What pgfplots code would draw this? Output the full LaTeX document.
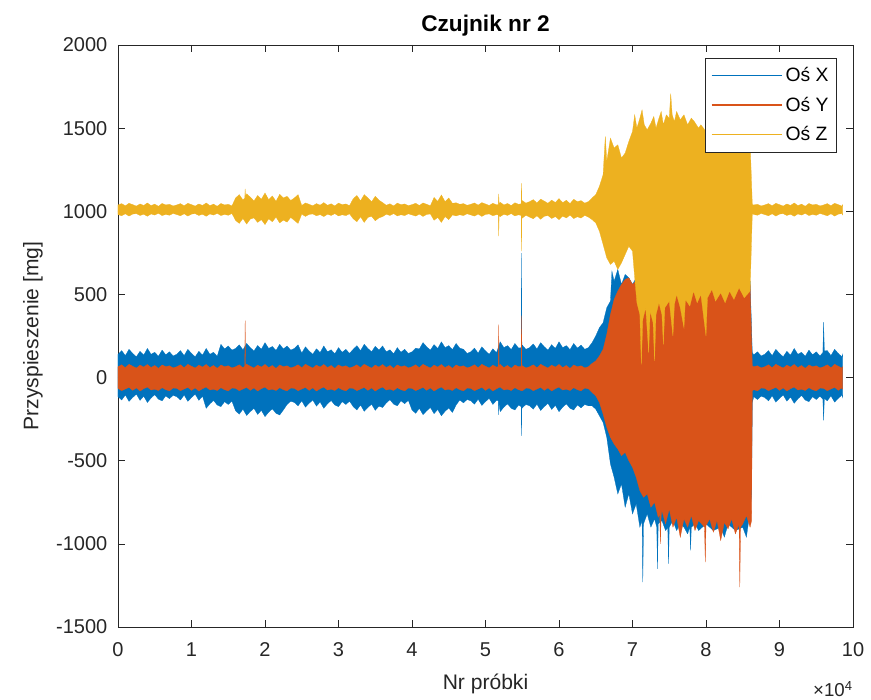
\documentclass[border=0pt]{standalone}
\usepackage{fontspec}
\setmainfont{Liberation Sans}
\usepackage{pgfplots}
\pgfplotsset{compat=1.18}
\usepgfplotslibrary{fillbetween}
\definecolor{mX}{RGB}{0,114,189}
\definecolor{mY}{RGB}{217,83,25}
\definecolor{mZ}{RGB}{237,177,32}
\definecolor{axgray}{RGB}{38,38,38}

\begin{document}
\begin{tikzpicture}
\begin{axis}[
    scale only axis,
    width=551.25pt, height=436.5pt,
    xmin=0, xmax=100000, ymin=-1500, ymax=2000,
    xtick={0,10000,...,100000},
    ytick={-1500,-1000,...,2000},
    scaled x ticks=base 10:-4,
    scaled y ticks=false,
    xtick scale label code/.code={},
    /pgf/number format/assume math mode=true,
    /pgf/number format/1000 sep={},
    tick align=inside,
    major tick length=5pt,
    axis line style={axgray},
    tick style={axgray, line width=0.5pt},
    ticklabel style={font=\fontsize{15}{17}\selectfont, text=axgray},
    xticklabel style={yshift=-8pt},
    yticklabel style={xshift=-4.5pt},
    title={Czujnik nr 2},
    title style={font=\fontsize{17}{19}\selectfont\bfseries, at={(0.5,1)}, anchor=base, yshift=4pt},
    xlabel={Nr próbki},
    xlabel style={font=\fontsize{15.8}{18}\selectfont, text=axgray, at={(0.5,0)}, anchor=base, yshift=-47.25pt},
    ylabel={Przyspieszenie [mg]},
    ylabel style={font=\fontsize{15.8}{18}\selectfont, text=axgray, at={(axis description cs:-0.1156,0.5)}, anchor=center},
    legend style={at={(0.978,0.978)}, anchor=north east, draw=axgray, fill=white,
        font=\fontsize{14.5}{16}\selectfont, cells={anchor=west}, row sep=6pt,
        inner xsep=4pt, inner ysep=5pt},
    legend image code/.code={\draw[#1] (0pt,0pt) -- (53pt,0pt);},
]
\addlegendimage{draw=mX, line width=1.1pt}
\addlegendentry{Oś X}
\addlegendimage{draw=mY, line width=1.1pt}
\addlegendentry{Oś Y}
\addlegendimage{draw=mZ, line width=1.1pt}
\addlegendentry{Oś Z}

% ---- Os X ----
\addplot[name path=xu, draw=none, forget plot] coordinates {
(0,140) (500,162) (1000,132) (1500,170) (2000,145) (2500,125) (3000,158) (3500,135)
(4000,175) (4500,140) (5000,152) (5500,128) (6000,165) (6500,137) (7000,155) (7500,130)
(8000,140) (8500,162) (9000,132) (9500,170) (10000,145) (10500,125) (11000,158) (11500,135)
(12000,175) (12500,140) (13000,152) (13500,128) (14000,200) (14500,172) (15000,190) (15500,165)
(16000,175) (16500,197) (17000,167) (17500,205) (18000,180) (18500,160) (19000,193) (19500,170)
(20000,210) (20500,175) (21000,187) (21500,163) (22000,200) (22500,172) (23000,190) (23500,165)
(24000,175) (24500,197) (25000,147) (25500,185) (26000,160) (26500,140) (27000,173) (27500,150)
(28000,190) (28500,155) (29000,167) (29500,143) (30000,180) (30500,152) (31000,170) (31500,145)
(32000,170) (32500,192) (33000,162) (33500,200) (34000,175) (34500,155) (35000,188) (35500,165)
(36000,190) (36500,155) (37000,167) (37500,143) (38000,180) (38500,152) (39000,170) (39500,145)
(40000,155) (40500,177) (41000,172) (41500,210) (42000,185) (42500,165) (43000,198) (43500,175)
(44000,215) (44500,180) (45000,192) (45500,168) (46000,205) (46500,177) (47000,170) (47500,145)
(48000,155) (48500,177) (49000,147) (49500,185) (50000,160) (50500,140) (51000,173) (51500,150)
(52000,215) (52500,180) (53000,192) (53500,168) (54000,205) (54500,177) (54850,180) (54900,748)
(54950,185) (55000,195) (55500,170) (56000,180) (56500,202) (57000,172) (57500,210) (58000,185)
(58500,165) (59000,198) (59500,175) (60000,215) (60500,180) (61000,192) (61500,168) (62000,205)
(62500,177) (63000,195) (63500,170) (64000,180) (64500,210) (65000,250) (65500,300) (66000,330)
(66500,420) (67000,460) (67200,640) (67500,580) (68000,650) (68500,560) (69000,620) (69500,600)
(70000,560) (70500,600) (71000,550) (72000,560) (73000,540) (74000,570) (75000,550) (76000,560)
(77000,540) (78000,560) (79000,550) (80000,560) (81000,540) (82000,560) (83000,550) (84000,570)
(85000,560) (86000,580) (86300,150) (86500,137) (87000,155) (87500,130) (88000,140) (88500,162)
(89000,132) (89500,170) (90000,145) (90500,125) (91000,158) (91500,135) (92000,175) (92500,140)
(93000,152) (93500,128) (94000,165) (94500,137) (95000,155) (95500,130) (95900,150) (96000,333)
(96100,160) (96500,162) (97000,132) (97500,170) (98000,145) (98500,125) (98600,140)
};
\addplot[name path=xl, draw=none, forget plot] coordinates {
(0,-115) (500,-135) (1000,-105) (1500,-143) (2000,-120) (2500,-100) (3000,-137) (3500,-112)
(4000,-150) (4500,-123) (5000,-103) (5500,-130) (6000,-140) (6500,-110) (7000,-127) (7500,-107)
(8000,-115) (8500,-135) (9000,-105) (9500,-143) (10000,-120) (10500,-100) (11000,-137) (11500,-112)
(12000,-185) (12500,-158) (13000,-138) (13500,-165) (14000,-175) (14500,-145) (15000,-162) (15500,-142)
(16000,-200) (16500,-220) (17000,-190) (17500,-228) (18000,-205) (18500,-185) (19000,-222) (19500,-197)
(20000,-235) (20500,-208) (21000,-188) (21500,-215) (22000,-225) (22500,-195) (23000,-162) (23500,-142)
(24000,-150) (24500,-170) (25000,-140) (25500,-178) (26000,-155) (26500,-135) (27000,-172) (27500,-147)
(28000,-185) (28500,-158) (29000,-138) (29500,-165) (30000,-175) (30500,-145) (31000,-162) (31500,-142)
(32000,-175) (32500,-195) (33000,-165) (33500,-203) (34000,-180) (34500,-160) (35000,-197) (35500,-172)
(36000,-180) (36500,-153) (37000,-133) (37500,-160) (38000,-170) (38500,-140) (39000,-157) (39500,-137)
(40000,-195) (40500,-215) (41000,-185) (41500,-223) (42000,-200) (42500,-180) (43000,-217) (43500,-192)
(44000,-230) (44500,-203) (45000,-183) (45500,-210) (46000,-165) (46500,-135) (47000,-152) (47500,-132)
(48000,-140) (48500,-160) (49000,-130) (49500,-168) (50000,-145) (50500,-125) (51000,-162) (51500,-137)
(51750,-140) (51800,-225) (51850,-145) (52000,-205) (52500,-178) (53000,-158) (53500,-185) (54000,-195)
(54500,-165) (54850,-175) (54900,-350) (54950,-180) (55000,-182) (55500,-162) (56000,-170) (56500,-190)
(57000,-160) (57500,-198) (58000,-175) (58500,-155) (59000,-192) (59500,-167) (60000,-205) (60500,-178)
(61000,-158) (61500,-185) (62000,-195) (62500,-165) (63000,-182) (63500,-162) (64000,-170) (64500,-170)
(65000,-190) (65500,-230) (66000,-270) (66500,-360) (67000,-520) (67500,-600) (68000,-700) (68500,-640)
(69000,-780) (69500,-700) (70000,-820) (70500,-760) (71000,-900) (71300,-860) (71400,-1230) (71500,-880)
(72000,-820) (72500,-900) (73000,-850) (73300,-900) (73400,-1150) (73500,-880) (74000,-860) (74500,-920)
(74800,-900) (74900,-1120) (75000,-900) (75500,-860) (76000,-920) (76500,-880) (77000,-900) (77500,-940)
(77800,-900) (77900,-1040) (78000,-900) (78500,-880) (79000,-920) (80000,-880) (81000,-920) (82000,-900)
(82500,-960) (83000,-880) (84000,-920) (85000,-900) (85500,-960) (86000,-800) (86200,-700) (86300,-150)
(86500,-115) (87000,-132) (87500,-112) (88000,-120) (88500,-140) (89000,-110) (89500,-148) (90000,-125)
(90500,-105) (91000,-142) (91500,-117) (92000,-155) (92500,-128) (93000,-108) (93500,-135) (94000,-145)
(94500,-115) (95000,-132) (95500,-112) (95900,-130) (96000,-257) (96100,-125) (96500,-140) (97000,-110)
(97500,-148) (98000,-125) (98500,-105) (98600,-120)
};
\addplot[fill=mX, draw=mX, line width=0.2pt, forget plot] fill between[of=xu and xl];

% ---- Os Y ----
\addplot[name path=yu, draw=none, forget plot] coordinates {
(0,65) (500,77) (1000,59) (1500,80) (2000,68) (2500,57) (3000,75) (3500,63)
(4000,79) (4500,60) (5000,73) (5500,55) (6000,76) (6500,65) (7000,71) (7500,58)
(8000,65) (8500,77) (9000,59) (9500,80) (10000,68) (10500,57) (11000,75) (11500,63)
(12000,79) (12500,60) (13000,73) (13500,55) (14000,76) (14500,65) (15000,71) (15500,58)
(16000,65) (16500,77) (17000,59) (17250,70) (17300,342) (17350,72) (17500,80) (18000,68)
(18500,57) (19000,75) (19500,63) (20000,79) (20500,60) (21000,73) (21500,55) (22000,76)
(22500,65) (23000,71) (23500,58) (24000,65) (24500,77) (25000,59) (25500,80) (26000,68)
(26500,57) (27000,75) (27500,63) (28000,79) (28500,60) (29000,73) (29500,55) (30000,76)
(30500,65) (31000,71) (31500,58) (32000,65) (32500,77) (33000,59) (33500,80) (34000,68)
(34500,57) (35000,75) (35500,63) (36000,79) (36500,60) (37000,73) (37500,55) (38000,76)
(38500,65) (39000,71) (39500,58) (40000,65) (40500,77) (41000,59) (41500,80) (42000,68)
(42500,57) (43000,75) (43500,63) (44000,79) (44500,60) (45000,73) (45500,55) (46000,76)
(46500,65) (47000,71) (47500,58) (48000,65) (48500,77) (49000,59) (49500,80) (50000,68)
(50500,57) (51000,75) (51500,63) (51750,66) (51800,318) (51850,70) (52000,79) (52500,60)
(53000,73) (53500,55) (54000,76) (54500,65) (54850,68) (54900,372) (54950,70) (55000,71)
(55500,58) (56000,65) (56500,77) (57000,59) (57500,80) (58000,68) (58500,57) (59000,75)
(59500,63) (60000,79) (60500,60) (61000,73) (61500,55) (62000,76) (62500,65) (63000,71)
(63500,58) (64000,65) (64500,85) (65000,100) (65500,130) (66000,170) (66500,260) (67000,380)
(67500,470) (68000,520) (68500,560) (69000,590) (69500,600) (70000,560) (70500,580) (71000,540)
(72000,560) (73000,520) (74000,560) (75000,530) (76000,570) (77000,520) (78000,560) (79000,540)
(80000,570) (81000,530) (82000,560) (83000,520) (84000,560) (85000,540) (86000,560) (86300,70)
(86500,65) (87000,71) (87500,58) (88000,65) (88500,77) (89000,59) (89500,80) (90000,68)
(90500,57) (91000,75) (91500,63) (92000,79) (92500,60) (93000,73) (93500,55) (94000,76)
(94500,65) (95000,71) (95500,58) (96000,65) (96500,77) (97000,59) (97500,80) (98000,68)
(98500,57) (98600,65)
};
\addplot[name path=yl, draw=none, forget plot] coordinates {
(0,-65) (500,-79) (1000,-69) (1500,-59) (2000,-77) (2500,-62) (3000,-81) (3500,-67)
(4000,-57) (4500,-75) (5000,-70) (5500,-78) (6000,-61) (6500,-73) (7000,-80) (7500,-63)
(8000,-65) (8500,-79) (9000,-69) (9500,-59) (10000,-77) (10500,-62) (11000,-81) (11500,-67)
(12000,-57) (12500,-75) (13000,-70) (13500,-78) (14000,-61) (14500,-73) (15000,-80) (15500,-63)
(16000,-65) (16500,-79) (17000,-69) (17500,-59) (18000,-77) (18500,-62) (19000,-81) (19500,-67)
(20000,-57) (20500,-75) (21000,-70) (21500,-78) (22000,-61) (22500,-73) (23000,-80) (23500,-63)
(24000,-65) (24500,-79) (25000,-69) (25500,-59) (26000,-77) (26500,-62) (27000,-81) (27500,-67)
(28000,-57) (28500,-75) (29000,-70) (29500,-78) (30000,-61) (30500,-73) (31000,-80) (31500,-63)
(32000,-65) (32500,-79) (33000,-69) (33500,-59) (34000,-77) (34500,-62) (35000,-81) (35500,-67)
(36000,-57) (36500,-75) (37000,-70) (37500,-78) (38000,-61) (38500,-73) (39000,-80) (39500,-63)
(40000,-65) (40500,-79) (41000,-69) (41500,-59) (42000,-77) (42500,-62) (43000,-81) (43500,-67)
(44000,-57) (44500,-75) (45000,-70) (45500,-78) (46000,-61) (46500,-73) (47000,-80) (47500,-63)
(48000,-65) (48500,-79) (49000,-69) (49500,-59) (50000,-77) (50500,-62) (51000,-81) (51500,-67)
(52000,-57) (52500,-75) (53000,-70) (53500,-78) (54000,-61) (54500,-73) (55000,-80) (55500,-63)
(56000,-65) (56500,-79) (57000,-69) (57500,-59) (58000,-77) (58500,-62) (59000,-81) (59500,-67)
(60000,-57) (60500,-75) (61000,-70) (61500,-78) (62000,-61) (62500,-73) (63000,-80) (63500,-63)
(64000,-68) (64500,-90) (65000,-110) (65500,-150) (66000,-220) (66500,-300) (67000,-360) (67500,-400)
(68000,-430) (68500,-470) (69000,-450) (69500,-500) (70000,-540) (70500,-600) (71000,-680) (71500,-720)
(72000,-700) (72500,-780) (73000,-750) (73500,-840) (73700,-820) (73800,-1000) (73900,-830) (74000,-800)
(74500,-880) (75000,-790) (75500,-900) (76000,-840) (76500,-960) (77000,-850) (77500,-900) (78000,-830)
(78500,-920) (79000,-860) (79800,-900) (79900,-1110) (80000,-890) (80500,-850) (81000,-930) (81500,-860)
(82000,-980) (82500,-870) (83000,-910) (83500,-850) (84000,-940) (84500,-880) (84600,-1260) (84700,-900)
(85000,-880) (85500,-830) (86000,-900) (86200,-860) (86300,-80) (86500,-73) (87000,-80) (87500,-63)
(88000,-65) (88500,-79) (89000,-69) (89500,-59) (90000,-77) (90500,-62) (91000,-81) (91500,-67)
(92000,-57) (92500,-75) (93000,-70) (93500,-78) (94000,-61) (94500,-73) (95000,-80) (95500,-63)
(96000,-65) (96500,-79) (97000,-69) (97500,-59) (98000,-77) (98500,-62) (98600,-70)
};
\addplot[fill=mY, draw=mY, line width=0.2pt, forget plot] fill between[of=yu and yl];

% ---- Os Z ----
\addplot[name path=zu, draw=none, forget plot] coordinates {
(0,1038) (500,1046) (1000,1033) (1500,1048) (2000,1040) (2500,1031) (3000,1044) (3500,1035)
(4000,1050) (4500,1034) (5000,1043) (5500,1030) (6000,1047) (6500,1038) (7000,1042) (7500,1032)
(8000,1038) (8500,1046) (9000,1033) (9500,1048) (10000,1040) (10500,1031) (11000,1044) (11500,1035)
(12000,1050) (12500,1034) (13000,1043) (13500,1030) (14000,1047) (14500,1038) (15000,1042) (15500,1032)
(16000,1080) (16500,1100) (17000,1068) (17250,1080) (17300,1135) (17350,1085) (17500,1105) (18000,1085)
(18500,1062) (19000,1095) (19500,1072) (20000,1110) (20500,1070) (21000,1092) (21500,1060) (22000,1102)
(22500,1080) (23000,1090) (23500,1065) (24000,1080) (24500,1100) (25000,1035) (25500,1050) (26000,1042)
(26500,1033) (27000,1046) (27500,1037) (28000,1052) (28500,1036) (29000,1045) (29500,1032) (30000,1049)
(30500,1040) (31000,1044) (31500,1034) (32000,1075) (32500,1095) (33000,1063) (33500,1100) (34000,1080)
(34500,1057) (35000,1090) (35500,1067) (36000,1052) (36500,1036) (37000,1045) (37500,1032) (38000,1049)
(38500,1040) (39000,1044) (39500,1034) (40000,1040) (40500,1048) (41000,1035) (41500,1050) (42000,1042)
(42500,1033) (43000,1083) (43500,1060) (44000,1098) (44500,1058) (45000,1080) (45500,1048) (46000,1051)
(46500,1042) (47000,1046) (47500,1036) (48000,1042) (48500,1050) (49000,1037) (49500,1052) (50000,1044)
(50500,1035) (51000,1048) (51500,1039) (51750,1040) (51800,1105) (51850,1045) (52000,1054) (52500,1038)
(53000,1047) (53500,1034) (54000,1051) (54500,1042) (54850,1045) (54900,1170) (54950,1050) (55000,1064)
(55500,1049) (56000,1058) (56500,1070) (57000,1050) (57500,1073) (58000,1061) (58500,1048) (59000,1067)
(59500,1053) (60000,1076) (60500,1052) (61000,1066) (61500,1046) (62000,1072) (62500,1058) (63000,1064)
(63500,1049) (64000,1058) (64500,1080) (65000,1100) (65500,1150) (66000,1220) (66300,1450) (66500,1300)
(67000,1440) (67500,1380) (68000,1400) (68500,1320) (69000,1350) (69500,1420) (70000,1480) (70300,1580)
(70600,1500) (71000,1560) (71300,1610) (71600,1520) (72000,1490) (72500,1530) (72900,1570) (73200,1500)
(73600,1560) (73900,1600) (74200,1520) (74600,1580) (75000,1560) (75200,1708) (75400,1580) (75700,1540)
(76000,1600) (76500,1550) (77000,1580) (77500,1520) (78000,1560) (78400,1540) (79000,1500) (79300,1520)
(80000,1480) (81000,1500) (82000,1450) (83000,1480) (84000,1450) (85000,1470) (86000,1420) (86300,1040)
(86500,1038) (87000,1042) (87500,1032) (88000,1038) (88500,1046) (89000,1033) (89500,1048) (90000,1040)
(90500,1031) (91000,1044) (91500,1035) (92000,1050) (92500,1034) (93000,1043) (93500,1030) (94000,1047)
(94500,1038) (95000,1042) (95500,1032) (96000,1038) (96500,1046) (97000,1033) (97500,1048) (98000,1040)
(98500,1031) (98600,1040)
};
\addplot[name path=zl, draw=none, forget plot] coordinates {
(0,980) (500,973) (1000,985) (1500,971) (2000,983) (2500,986) (3000,975) (3500,982)
(4000,970) (4500,984) (5000,977) (5500,988) (6000,974) (6500,981) (7000,976) (7500,987)
(8000,980) (8500,973) (9000,985) (9500,971) (10000,983) (10500,986) (11000,975) (11500,982)
(12000,970) (12500,984) (13000,977) (13500,988) (14000,974) (14500,981) (15000,976) (15500,987)
(16000,945) (16500,927) (17000,957) (17500,923) (18000,953) (18500,960) (19000,933) (19500,950)
(20000,920) (20500,955) (21000,937) (21500,965) (22000,930) (22500,947) (23000,935) (23500,963)
(24000,945) (24500,927) (25000,983) (25500,969) (26000,981) (26500,984) (27000,973) (27500,980)
(28000,968) (28500,982) (29000,975) (29500,986) (30000,972) (30500,979) (31000,974) (31500,985)
(32000,955) (32500,937) (33000,967) (33500,933) (34000,963) (34500,970) (35000,943) (35500,960)
(36000,968) (36500,982) (37000,975) (37500,986) (38000,972) (38500,979) (39000,974) (39500,985)
(40000,978) (40500,971) (41000,983) (41500,969) (42000,981) (42500,984) (43000,946) (43500,963)
(44000,933) (44500,968) (45000,950) (45500,978) (46000,972) (46500,979) (47000,974) (47500,985)
(48000,978) (48500,971) (49000,983) (49500,969) (50000,981) (50500,984) (51000,973) (51500,980)
(51750,978) (51800,850) (51850,975) (52000,968) (52500,982) (53000,975) (53500,986) (54000,972)
(54500,979) (54850,975) (54900,760) (54950,970) (55000,959) (55500,976) (56000,965) (56500,955)
(57000,973) (57500,952) (58000,970) (58500,974) (59000,957) (59500,968) (60000,950) (60500,971)
(61000,960) (61500,977) (62000,956) (62500,967) (63000,959) (63500,976) (64000,965) (64500,950)
(65000,930) (65500,880) (66000,800) (66500,720) (67000,680) (67500,700) (68000,650) (68500,690)
(69000,740) (69500,790) (70000,760) (70300,600) (70600,450) (71000,380) (71200,80) (71400,350)
(71800,420) (72200,150) (72400,400) (72800,330) (73000,100) (73200,380) (73600,450) (74000,380)
(74200,200) (74400,420) (75000,460) (75500,250) (75700,440) (76000,500) (76500,420) (77000,300)
(77200,470) (77800,430) (78300,520) (78800,450) (79300,500) (80000,250) (80200,480) (80800,530)
(81300,460) (82000,510) (82600,450) (83200,520) (83800,470) (84500,540) (85200,480) (86000,520)
(86300,985) (86500,981) (87000,976) (87500,987) (88000,980) (88500,973) (89000,985) (89500,971)
(90000,983) (90500,986) (91000,975) (91500,982) (92000,970) (92500,984) (93000,977) (93500,988)
(94000,974) (94500,981) (95000,976) (95500,987) (96000,980) (96500,973) (97000,985) (97500,971)
(98000,983) (98500,986) (98600,978)
};
\addplot[fill=mZ, draw=mZ, line width=0.2pt, forget plot] fill between[of=zu and zl];

\end{axis}
\node[anchor=base east, font=\fontsize{14}{16}\selectfont, text=axgray, inner sep=0pt]
    at ([shift={(0pt,-52.5pt)}]current axis.south east) {×10\textsuperscript{4}};
\path ([shift={(-88.5pt,-54.75pt)}]current axis.south west)
    rectangle ([shift={(13.5pt,33.75pt)}]current axis.north east);
\end{tikzpicture}
\end{document}
